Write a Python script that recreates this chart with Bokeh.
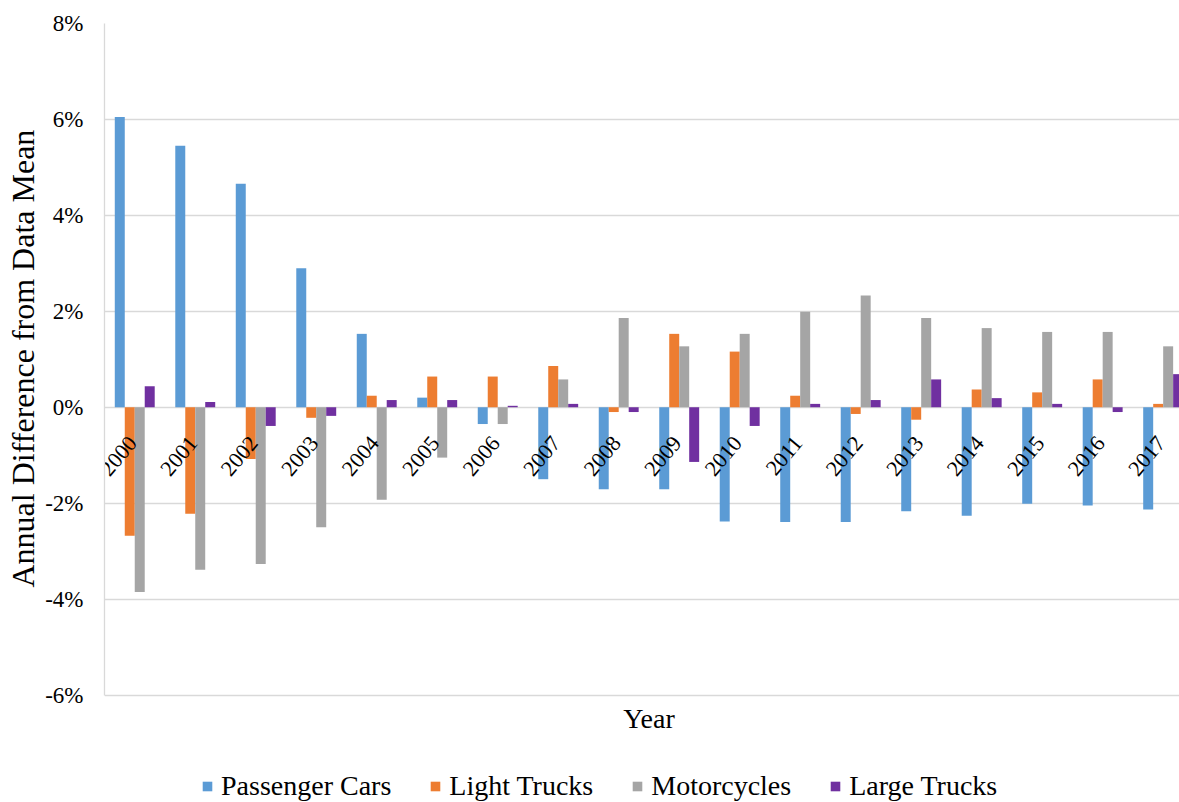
from bokeh.plotting import figure
from bokeh.models import (Range1d, FixedTicker, PrintfTickFormatter, Legend,
                          LegendItem, ColumnDataSource, Label, Title)
from bokeh.transform import dodge
from bokeh.core.properties import value
from bokeh.embed import file_html
from bokeh.resources import INLINE

# ---- data (percent difference from data mean) ----
years = ["2000", "2001", "2002", "2003", "2004", "2005", "2006", "2007", "2008",
         "2009", "2010", "2011", "2012", "2013", "2014", "2015", "2016", "2017"]
passenger_cars = [6.05, 5.45, 4.66, 2.90, 1.53, 0.20, -0.35, -1.50, -1.71,
                  -1.71, -2.38, -2.39, -2.39, -2.17, -2.26, -2.01, -2.05, -2.13]
light_trucks = [-2.68, -2.22, -1.08, -0.22, 0.24, 0.64, 0.64, 0.86, -0.10,
                1.53, 1.16, 0.24, -0.14, -0.26, 0.37, 0.31, 0.58, 0.07]
motorcycles = [-3.85, -3.39, -3.27, -2.50, -1.93, -1.05, -0.35, 0.58, 1.86,
               1.27, 1.53, 1.99, 2.33, 1.86, 1.65, 1.57, 1.57, 1.27]
large_trucks = [0.44, 0.11, -0.39, -0.18, 0.15, 0.15, 0.03, 0.07, -0.10,
                -1.14, -0.39, 0.07, 0.15, 0.58, 0.19, 0.07, -0.10, 0.69]
series_names = ["Passenger Cars", "Light Trucks", "Motorcycles", "Large Trucks"]
series_colors = ["#5B9BD5", "#ED7D31", "#A5A5A5", "#7030A0"]
y_ticks = [-6, -4, -2, 0, 2, 4, 6, 8]
x_title = "Year"
y_title = "Annual Difference from Data Mean"

FONT = "Liberation Serif"

src = ColumnDataSource(dict(
    x=list(range(len(years))), year=years,
    pc=passenger_cars, lt=light_trucks, mc=motorcycles, tr=large_trucks,
    zero=[0] * len(years),
))

# the frame runs down to the bottom of the page; the area under -6% holds
# the x-axis title and the legend
p = figure(width=1179, height=802, output_backend="svg", toolbar_location=None,
           x_range=Range1d(-0.5, 17.27), y_range=Range1d(-8.24, 8),
           x_axis_location=None,
           min_border_left=104, min_border_right=0, min_border_top=23,
           min_border_bottom=0)
p.outline_line_color = None
p.background_fill_color = "white"

bw = 0.165
offsets = [-1.5 * bw, -0.5 * bw, 0.5 * bw, 1.5 * bw]
cols = ["pc", "lt", "mc", "tr"]
renderers = []
for col, off, color in zip(cols, offsets, series_colors):
    r = p.vbar(x=dodge("x", off, range=p.x_range), top=col, bottom=0, width=bw,
               source=src, fill_color=color, line_color=None)
    renderers.append(r)

# year labels next to the zero line, rotated
p.text(x="x", y="zero", text="year", source=src, angle=0.873,
       text_align="right", text_baseline="middle", x_offset=-2, y_offset=32,
       text_font=value(FONT), text_font_size="22px", text_color="black")

# grid
p.xgrid.grid_line_color = None
p.ygrid.grid_line_color = "#D9D9D9"
p.ygrid.grid_line_width = 1.3
p.ygrid.ticker = FixedTicker(ticks=y_ticks)

# y axis
ya = p.yaxis[0]
ya.ticker = FixedTicker(ticks=y_ticks)
ya.bounds = (min(y_ticks), max(y_ticks))
ya.formatter = PrintfTickFormatter(format="%d%%")
ya.major_tick_line_color = None
ya.minor_tick_line_color = None
ya.major_tick_out = 0
ya.major_tick_in = 0
ya.axis_line_color = "#D9D9D9"
ya.axis_line_width = 1.3
ya.major_label_standoff = 21
ya.major_label_text_font = FONT
ya.major_label_text_font_size = "23px"
ya.major_label_text_color = "black"

# y-axis title, centred on the -6%..8% span (not on the whole frame)
p.add_layout(Title(text=y_title, align="left", offset=215, standoff=3,
                   text_font=FONT, text_font_size="32px",
                   text_font_style="normal", text_color="black"), "left")

# x-axis title, centred under the categories
p.add_layout(Label(x=(len(years) - 1) / 2, y=-6.49, text=x_title,
                   text_align="center", text_baseline="middle",
                   text_font=FONT, text_font_size="28px", text_color="black"))

legend = Legend(items=[LegendItem(label=n, renderers=[r])
                       for n, r in zip(series_names, renderers)],
                orientation="horizontal", location=(97, 0),
                label_text_font=FONT, label_text_font_size="28px",
                label_text_color="black", glyph_width=12, glyph_height=12,
                label_standoff=8, spacing=38, padding=0, margin=0,
                border_line_color=None, background_fill_alpha=0)
p.add_layout(legend, "center")

open("out.html", "w").write(file_html(p, INLINE))
